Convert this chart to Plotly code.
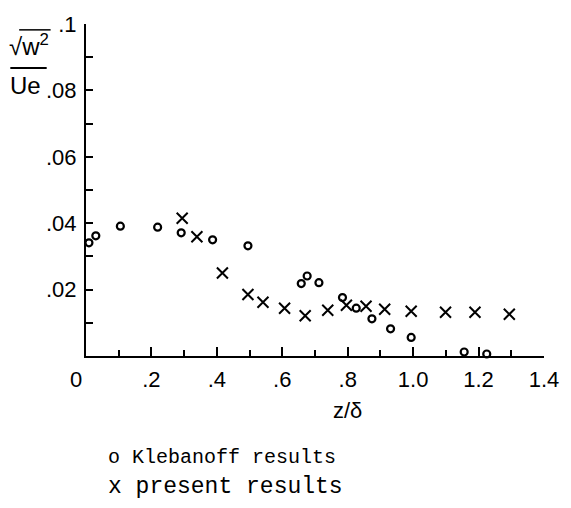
import plotly.graph_objects as go

# Klebanoff results (open circles)
kleb_x = [0.009, 0.030, 0.105, 0.219, 0.291, 0.387, 0.495, 0.658, 0.676, 0.712,
          0.784, 0.826, 0.874, 0.931, 0.994, 1.156, 1.225]
kleb_y = [0.0341, 0.0362, 0.0391, 0.0388, 0.0371, 0.0350, 0.0332, 0.0218, 0.0241, 0.0221,
          0.0176, 0.0144, 0.0112, 0.0082, 0.0056, 0.0012, 0.0006]

# present results (crosses)
pres_x = [0.294, 0.339, 0.417, 0.495, 0.541, 0.607, 0.670, 0.739, 0.796, 0.856,
          0.913, 0.994, 1.099, 1.189, 1.294]
pres_y = [0.0415, 0.0359, 0.0250, 0.0185, 0.0162, 0.0144, 0.0121, 0.0138, 0.0153, 0.0150,
          0.0141, 0.0135, 0.0132, 0.0132, 0.0126]

x_tickvals = [0.2, 0.4, 0.6, 0.8, 1.0, 1.2, 1.4]
x_ticktext = [".2", ".4", ".6", ".8", "1.0", "1.2", "1.4"]
y_tickvals = [0.02, 0.04, 0.06, 0.08, 0.1]
y_ticktext = [".02", ".04", ".06", ".08", ".1"]

fig = go.Figure()
fig.add_trace(go.Scatter(
    x=kleb_x, y=kleb_y, mode="markers", name="Klebanoff results",
    marker=dict(symbol="circle-open", size=7, color="black", line=dict(width=2.2, color="black")),
    cliponaxis=False))
fig.add_trace(go.Scatter(
    x=pres_x, y=pres_y, mode="markers", name="present results",
    marker=dict(symbol="x-thin-open", size=11, color="black", line=dict(width=2, color="black")),
    cliponaxis=False))

tick_font = dict(family="Liberation Sans", size=22, color="black")

fig.update_xaxes(
    range=[0, 1.4], showgrid=False, zeroline=False,
    showline=True, linecolor="black", linewidth=2,
    tickmode="array", tickvals=x_tickvals, ticktext=x_ticktext,
    ticks="inside", ticklen=9, tickwidth=2, tickcolor="black",
    minor=dict(tick0=0, dtick=0.1, ticks="inside", ticklen=6, tickwidth=2, tickcolor="black"),
    tickfont=tick_font, ticklabelstandoff=3,
)
fig.update_yaxes(
    range=[0, 0.1], showgrid=False, zeroline=False,
    showline=True, linecolor="black", linewidth=2,
    tickmode="array", tickvals=y_tickvals, ticktext=y_ticktext,
    ticks="inside", ticklen=7, tickwidth=2, tickcolor="black",
    minor=dict(tick0=0, dtick=0.01, ticks="inside", ticklen=7, tickwidth=2, tickcolor="black"),
    tickfont=tick_font, ticklabelstandoff=3,
)

L, T, W, H = 86, 16, 466, 340

def px(x):
    return (x - L) / W

def py(y):
    return (T + H - y) / H

anns = [
    dict(x=px(28), y=py(38), text="√w<sup>2</sup>",
         font=dict(family="Liberation Sans", size=24, color="black")),
    dict(x=px(24), y=py(79), text="Ue",
         font=dict(family="Liberation Sans", size=24, color="black")),
    dict(x=px(76), y=py(380), text="0",
         font=dict(family="Liberation Sans", size=22, color="black")),
    dict(x=px(352), y=py(412), text="z/δ",
         font=dict(family="Liberation Sans", size=22, color="black")),
    dict(x=px(106), y=py(460), text="o Klebanoff results", xanchor="left",
         font=dict(family="Liberation Mono", size=20, color="black")),
    dict(x=px(106), y=py(490), text="x present results", xanchor="left",
         font=dict(family="Liberation Mono", size=23, color="black")),
]
for a in anns:
    a.setdefault("xanchor", "center")
    a.update(xref="paper", yref="paper", yanchor="middle", showarrow=False)
    fig.add_annotation(**a)

# fraction bar and radical overline
fig.add_shape(type="line", xref="paper", yref="paper",
              x0=px(9), x1=px(46), y0=py(61), y1=py(61),
              line=dict(color="black", width=2))
fig.add_shape(type="line", xref="paper", yref="paper",
              x0=px(18), x1=px(50), y0=py(22), y1=py(22),
              line=dict(color="black", width=1.5))

fig.update_layout(
    width=571, height=508,
    margin=dict(l=L, r=571 - L - W, t=T, b=508 - T - H),
    plot_bgcolor="white", paper_bgcolor="white",
    showlegend=False,
)

fig.write_html("out.html")
